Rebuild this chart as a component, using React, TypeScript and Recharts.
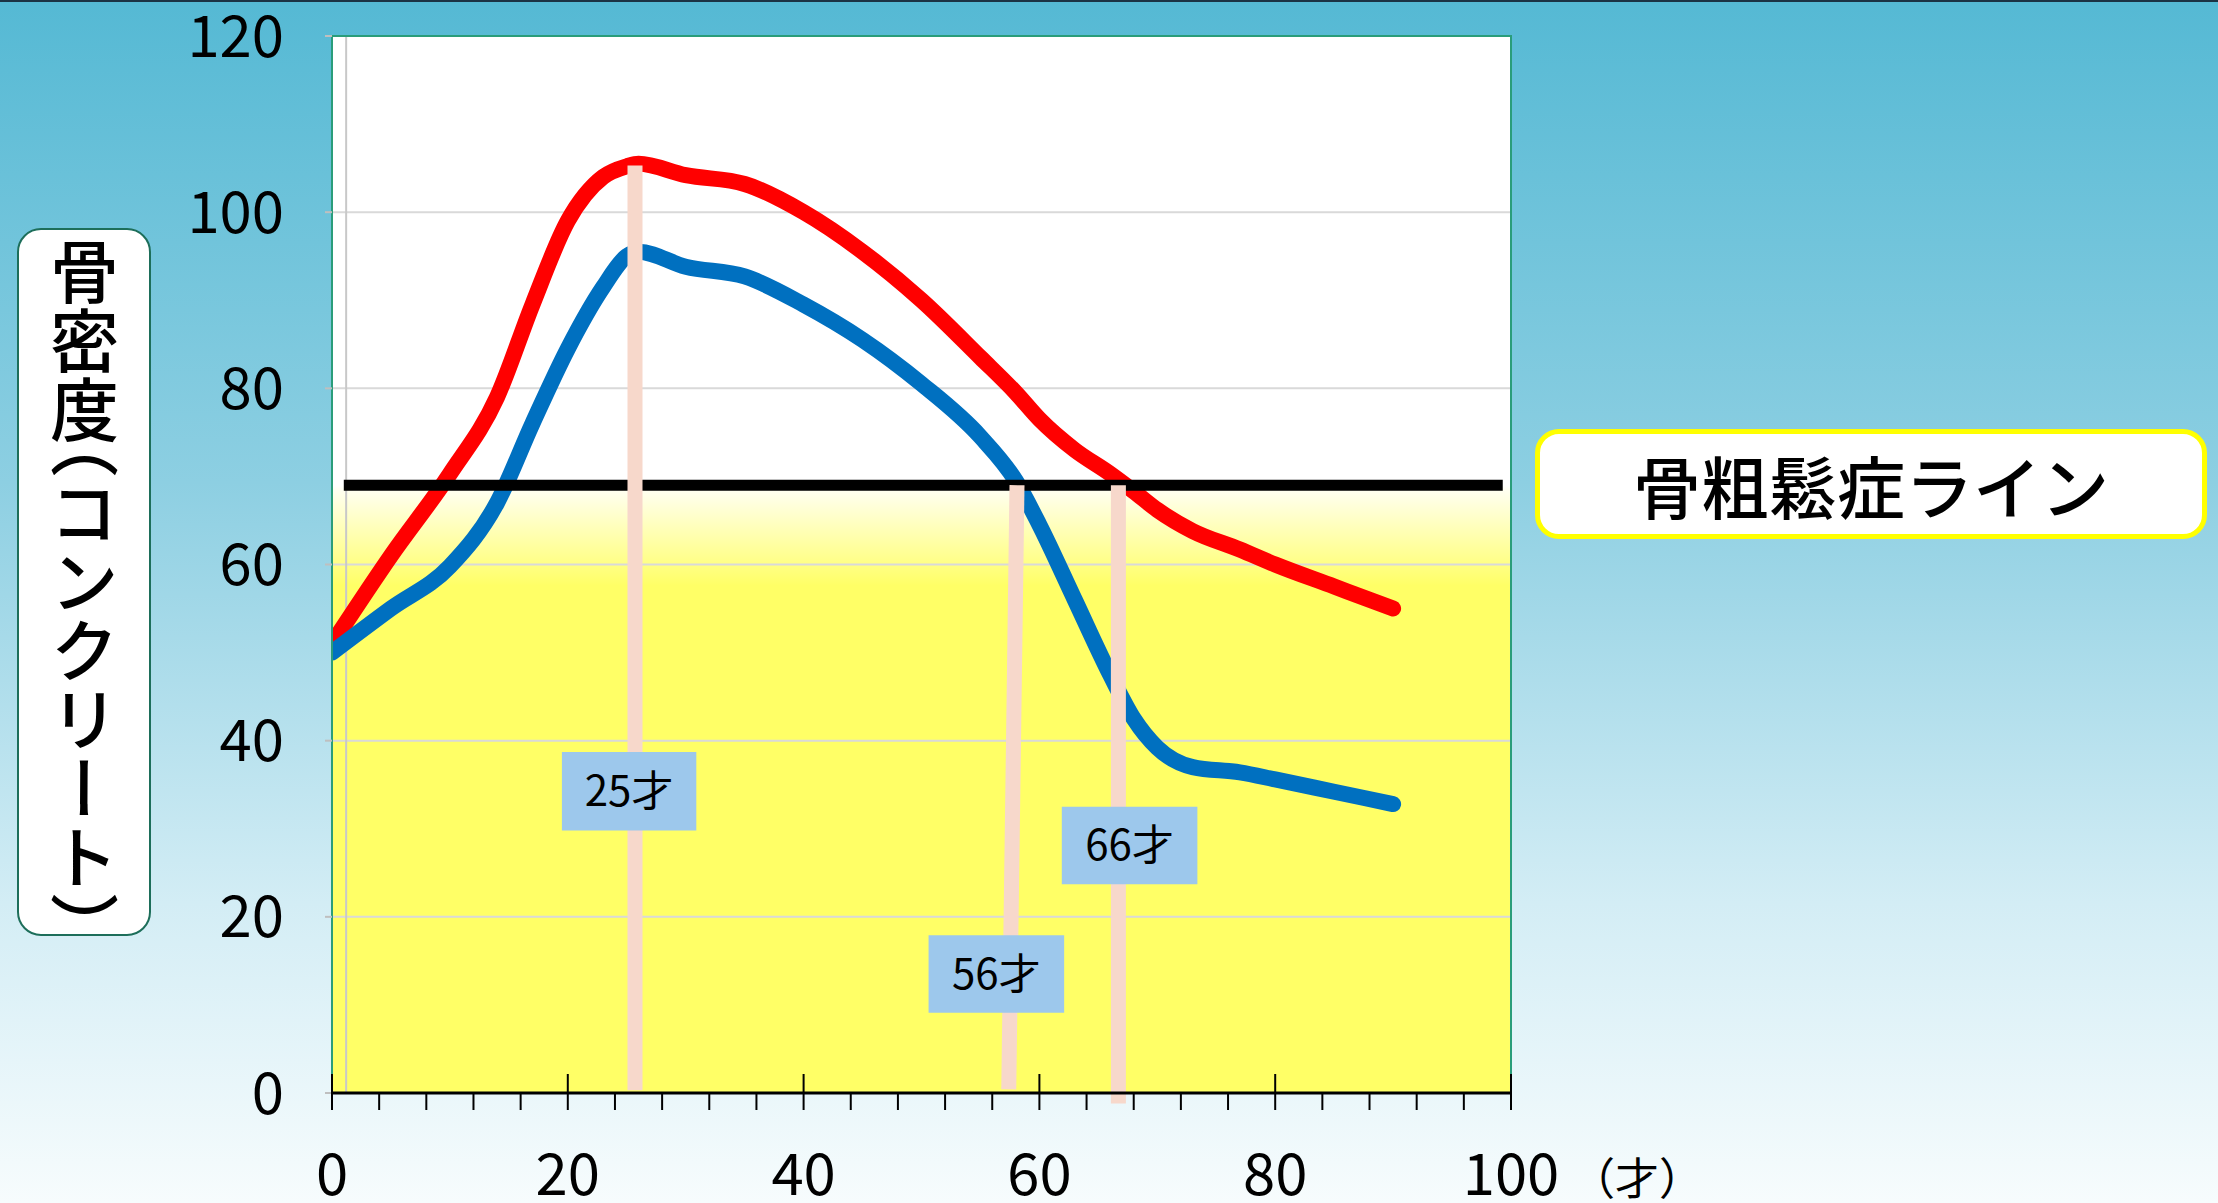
import React from 'react';
import { CartesianGrid, Line, LineChart, ReferenceArea, ReferenceLine, XAxis, YAxis } from 'recharts';

// ages
const ages = [0, 5, 10, 14, 17, 20, 23, 25, 26, 30, 35, 40, 45, 50, 55, 58, 60, 63, 66, 68, 70, 73, 77, 80, 85, 90];
const redVals = [51, 61, 70.3, 79, 89.5, 99, 104, 105.2, 105.5, 104.2, 103.2, 100, 95.5, 90, 83.5, 79.5, 76.5, 73, 70.3, 68.3, 66.2, 63.8, 61.7, 60, 57.5, 55];
const blueVals = [50, 55, 59.8, 67, 76, 84.5, 91.5, 95, 95.5, 93.8, 92.7, 89.5, 85.5, 80.5, 74.5, 69.5, 64.5, 56, 47.5, 42.5, 39.2, 37, 36.4, 35.6, 34.2, 32.8];

const yTicks = [0, 20, 40, 60, 80, 100, 120];
const xTicks = [0, 4, 8, 12, 16, 20, 24, 28, 32, 36, 40, 44, 48, 52, 56, 60, 64, 68, 72, 76, 80, 84, 88, 92, 96, 100];

const lineLevel = 69;
const lineFrom = 1;
const lineTo = 99.3;

// pink age markers: [top x, top y, bottom x, bottom y]
const markers = [
  [25.7, 105.3, 25.7, 0.3],
  [58.1, 69, 57.4, 0.4],
  [66.7, 69, 66.7, -1.2],
];
// label boxes: [text, x1, x2, y1, y2]
const boxes: [string, number, number, number, number][] = [
  ['25才', 19.5, 30.9, 29.8, 38.7],
  ['56才', 50.6, 62.1, 9.1, 17.9],
  ['66才', 61.9, 73.4, 23.7, 32.5],
];

const redData = ages.map((a, i) => ({ age: a, v: redVals[i] }));
const blueData = ages.map((a, i) => ({ age: a, v: blueVals[i] }));

const FONT = '"Noto Sans CJK JP", "Noto Sans", sans-serif';

function XTick(props: any) {
  const { x, y, payload } = props;
  const major = payload.value % 20 === 0;
  return (
    <g>
      <line x1={x} x2={x} y1={major ? y - 19 : y} y2={y + 17} stroke="#000" strokeWidth={2} />
      {major && (
        <text x={x} y={y + 77} textAnchor="middle" dominantBaseline="central" fontSize={58} fill="#000" fontFamily={FONT}>
          {payload.value}
        </text>
      )}
    </g>
  );
}

const half = { fontFeatureSettings: '"vhal"' };

export default function App() {
  return (
    <div
      style={{
        position: 'absolute', left: 0, top: 0, width: 2218, height: 1203, overflow: 'hidden',
        background: 'linear-gradient(to bottom, #55b9d4 0%, #8dcfe2 40%, #d3edf5 75%, #f7fcfd 100%)',
        borderTop: '2px solid #1b3344', boxSizing: 'border-box', fontFamily: FONT,
      }}
    >
      <div style={{ position: 'absolute', left: 0, top: -2 }}>
        <LineChart width={2218} height={1203} margin={{ top: 36, right: 707, bottom: 0, left: 0 }}>
          <defs>
            <linearGradient id="bgGrad" x1="0" y1="0" x2="0" y2="1">
              <stop offset="0" stopColor="#ffffff" />
              <stop offset="0.425" stopColor="#ffffff" />
              <stop offset="0.43" stopColor="#fffff0" />
              <stop offset="0.52" stopColor="#ffff66" />
              <stop offset="1" stopColor="#ffff66" />
            </linearGradient>
          </defs>
          <CartesianGrid vertical={false} stroke="#d9d9d9" strokeWidth={2} fill="url(#bgGrad)" fillOpacity={1} />
          <XAxis
            type="number" dataKey="age" domain={[0, 100]} ticks={xTicks} interval={0}
            height={110} tickSize={0} tickMargin={0} tick={<XTick />}
            axisLine={{ stroke: '#000', strokeWidth: 3 }} tickLine={false} allowDataOverflow
          />
          <YAxis
            type="number" domain={[0, 120]} ticks={yTicks} width={332} axisLine={false}
            tickSize={7} tickMargin={41} tickLine={{ stroke: '#bfbfbf', strokeWidth: 2 }}
            tick={{ fontSize: 58, fill: '#000', fontFamily: FONT }}
          />
          <ReferenceLine x={1.2} stroke="#c8c8c8" strokeWidth={2} />
          <Line data={redData} dataKey="v" type="monotone" stroke="#ff0000" strokeWidth={16} dot={false}
            strokeLinecap="round" strokeLinejoin="round" isAnimationActive={false} />
          <Line data={blueData} dataKey="v" type="monotone" stroke="#0070c0" strokeWidth={16} dot={false}
            strokeLinecap="round" strokeLinejoin="round" isAnimationActive={false} />
          <ReferenceLine segment={[{ x: lineFrom, y: lineLevel }, { x: lineTo, y: lineLevel }]} stroke="#000" strokeWidth={11} zIndex={450} />
          {markers.map((m, i) => (
            <ReferenceLine key={i} segment={[{ x: m[0], y: m[1] }, { x: m[2], y: m[3] }]}
              stroke="#f7d8cb" strokeWidth={15} ifOverflow="visible" zIndex={460} />
          ))}
          {boxes.map((b) => (
            <ReferenceArea key={b[0]} x1={b[1]} x2={b[2]} y1={b[3]} y2={b[4]} fill="#9dc8ec" fillOpacity={1}
              stroke="none" zIndex={470}
              label={{ value: b[0], position: 'center', fill: '#000', fontSize: 42, fontFamily: FONT }} />
          ))}
          <ReferenceArea x1={0} x2={100} y1={0} y2={120} fill="none" stroke="#2a9d7a" strokeWidth={2} zIndex={480} />
        </LineChart>
      </div>

      <div
        style={{
          position: 'absolute', left: 17, top: 226, width: 134, height: 708, boxSizing: 'border-box',
          border: '2px solid #1d6e5a', borderRadius: 24, background: '#fff',
          display: 'flex', alignItems: 'center', justifyContent: 'center',
        }}
      >
        <div style={{ writingMode: 'vertical-rl', fontSize: 69, lineHeight: 1, color: '#000', fontWeight: 500 }}>
          骨密度<span style={half}>（</span>コンクリート<span style={half}>）</span>
        </div>
      </div>

      <div
        style={{
          position: 'absolute', left: 1535, top: 427, width: 672, height: 110, boxSizing: 'border-box',
          border: '5px solid #ffff00', borderRadius: 24, background: '#fff',
          display: 'flex', alignItems: 'center', justifyContent: 'center',
          fontSize: 68, color: '#000', fontWeight: 500,
        }}
      >
        骨粗鬆症ライン
      </div>

      <div
        style={{
          position: 'absolute', left: 1571, top: 1149, fontSize: 44, lineHeight: '50px',
          color: '#000', whiteSpace: 'nowrap',
        }}
      >
        （才）
      </div>
    </div>
  );
}
